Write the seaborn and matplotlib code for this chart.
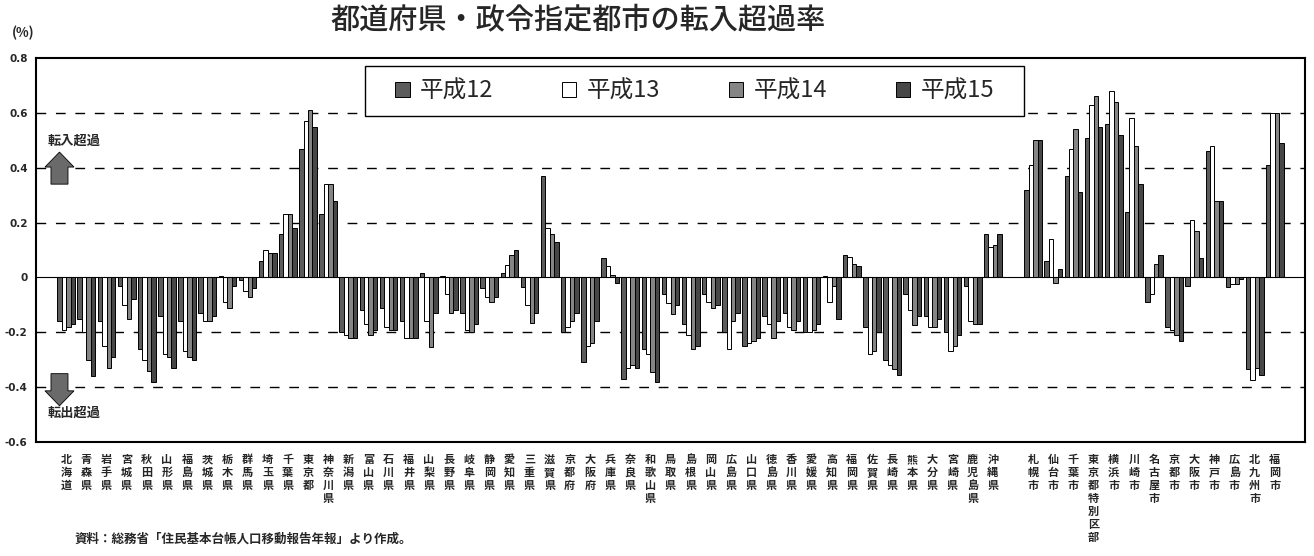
import numpy as np
import pandas as pd
import matplotlib
matplotlib.use("Agg")
import matplotlib.pyplot as plt
import seaborn as sns
from matplotlib.patches import FancyArrow, Rectangle

sns.set_theme(style="white")
plt.rcParams["font.family"] = ["Noto Sans CJK JP", "DejaVu Sans"]

# 都道府県と政令指定都市
prefectures = ["北海道", "青森県", "岩手県", "宮城県", "秋田県", "山形県", "福島県", "茨城県",
               "栃木県", "群馬県", "埼玉県", "千葉県", "東京都", "神奈川県", "新潟県", "富山県",
               "石川県", "福井県", "山梨県", "長野県", "岐阜県", "静岡県", "愛知県", "三重県",
               "滋賀県", "京都府", "大阪府", "兵庫県", "奈良県", "和歌山県", "鳥取県", "島根県",
               "岡山県", "広島県", "山口県", "徳島県", "香川県", "愛媛県", "高知県", "福岡県",
               "佐賀県", "長崎県", "熊本県", "大分県", "宮崎県", "鹿児島県", "沖縄県"]
cities = ["札幌市", "仙台市", "千葉市", "東京都特別区部", "横浜市", "川崎市", "名古屋市",
          "京都市", "大阪市", "神戸市", "広島市", "北九州市", "福岡市"]
years = ["平成12", "平成13", "平成14", "平成15"]

# 転入超過率（%）: 都道府県
pref_h12 = [-0.16, -0.15, -0.16, -0.03, -0.26, -0.14, -0.16, -0.13, 0.005, -0.01,
            0.06, 0.16, 0.47, 0.23, -0.20, -0.12, -0.11, -0.16, 0.015, 0.005,
            -0.13, -0.04, 0.015, -0.035, 0.37, -0.20, -0.31, 0.07, -0.37, -0.26,
            -0.06, -0.17, -0.06, -0.20, -0.25, -0.14, -0.13, -0.20, 0.005, 0.08,
            -0.18, -0.30, -0.06, -0.14, -0.20, -0.03, 0.16]
pref_h13 = [-0.19, -0.20, -0.25, -0.10, -0.30, -0.28, -0.27, -0.16, -0.09, -0.05,
            0.10, 0.23, 0.57, 0.34, -0.21, -0.17, -0.18, -0.22, -0.16, -0.06,
            -0.19, -0.07, 0.045, -0.10, 0.18, -0.18, -0.25, 0.04, -0.33, -0.28,
            -0.095, -0.21, -0.09, -0.26, -0.24, -0.17, -0.18, -0.20, -0.09, 0.075,
            -0.28, -0.32, -0.12, -0.18, -0.27, -0.16, 0.11]
pref_h14 = [-0.18, -0.30, -0.33, -0.15, -0.34, -0.29, -0.29, -0.16, -0.11, -0.07,
            0.09, 0.23, 0.61, 0.34, -0.22, -0.21, -0.19, -0.22, -0.255, -0.13,
            -0.20, -0.09, 0.08, -0.165, 0.16, -0.16, -0.24, 0.01, -0.32, -0.345,
            -0.135, -0.26, -0.11, -0.16, -0.23, -0.22, -0.19, -0.19, -0.03, 0.05,
            -0.27, -0.335, -0.175, -0.18, -0.25, -0.17, 0.12]
pref_h15 = [-0.17, -0.36, -0.29, -0.08, -0.38, -0.33, -0.30, -0.14, -0.03, -0.04,
            0.09, 0.18, 0.55, 0.28, -0.22, -0.19, -0.19, -0.22, -0.13, -0.12,
            -0.17, -0.07, 0.10, -0.13, 0.13, -0.13, -0.16, -0.02, -0.33, -0.38,
            -0.10, -0.25, -0.10, -0.13, -0.22, -0.16, -0.16, -0.17, -0.15, 0.04,
            -0.20, -0.355, -0.14, -0.15, -0.21, -0.17, 0.16]

# 転入超過率（%）: 政令指定都市
city_h12 = [0.32, 0.06, 0.37, 0.51, 0.56, 0.24, -0.09, -0.18, -0.03, 0.46, -0.035, -0.335, 0.41]
city_h13 = [0.41, 0.14, 0.47, 0.63, 0.68, 0.58, -0.06, -0.19, 0.21, 0.48, -0.025, -0.375, 0.60]
city_h14 = [0.50, -0.02, 0.54, 0.66, 0.64, 0.48, 0.05, -0.21, 0.17, 0.28, -0.025, -0.33, 0.60]
city_h15 = [0.50, 0.03, 0.31, 0.55, 0.52, 0.34, 0.08, -0.23, 0.07, 0.28, -0.005, -0.355, 0.49]

gap = " "
order = prefectures + [gap] + cities

rows = []
for name, vals in zip(years, [pref_h12 + [np.nan] + city_h12,
                              pref_h13 + [np.nan] + city_h13,
                              pref_h14 + [np.nan] + city_h14,
                              pref_h15 + [np.nan] + city_h15]):
    for cat, v in zip(order, vals):
        rows.append({"地域": cat, "年": name, "転入超過率": v})
df = pd.DataFrame(rows)

palette = {"平成12": "#5c5c5c", "平成13": "#ffffff", "平成14": "#858585", "平成15": "#474747"}

fig = plt.figure(figsize=(13.14, 5.56), dpi=100)
ax = fig.add_axes([0.0274, 0.205, 0.9658, 0.6907])

sns.barplot(data=df, x="地域", y="転入超過率", hue="年", order=order, hue_order=years,
            palette=palette, edgecolor="black", linewidth=0.7, width=0.88,
            errorbar=None, ax=ax, legend=True, zorder=3)

ax.set_ylim(-0.6, 0.8)
ax.set_xlim(-1.5, len(order) + 0.5)
ax.set_yticks([0.8, 0.6, 0.4, 0.2, 0, -0.2, -0.4, -0.6])
ax.set_yticklabels(["0.8", "0.6", "0.4", "0.2", "0", "-0.2", "-0.4", "-0.6"],
                   fontsize=7.5, fontweight="bold", family=["DejaVu Sans"])
ax.tick_params(axis="y", length=0, pad=6)

for yv in [0.6, 0.4, 0.2, -0.2, -0.4]:
    ax.axhline(yv, color="black", lw=1.0, ls=(0, (7, 7)), zorder=1)
ax.axhline(0, color="black", lw=0.8, zorder=4)

labels = ["\n".join(list(c)) if c != gap else "" for c in order]
ax.set_xticks(range(len(order)))
ax.set_xticklabels(labels, fontsize=8, fontweight="bold", linespacing=1.0, va="top")
ax.tick_params(axis="x", length=0, pad=8)
ax.set_xlabel("")
ax.set_ylabel("")

for s in ax.spines.values():
    s.set_visible(True)
    s.set_color("black")
    s.set_linewidth(1.5)

# 凡例（枠は別に描く）
ax.add_patch(Rectangle((0.2593, 0.849), 0.5193, 0.130, transform=ax.transAxes,
                       fc="white", ec="black", lw=1.0, zorder=5))
leg = ax.legend(loc="center", bbox_to_anchor=(0.519, 0.914), ncol=4, frameon=False,
                fontsize=17, handlelength=0.6, handleheight=0.6, handletextpad=0.45,
                columnspacing=2.9, borderpad=0, borderaxespad=0)
leg.set_zorder(6)

# 転入超過・転出超過の矢印
ax.text(0.009, 0.786, "転入超過", transform=ax.transAxes, fontsize=9.5, fontweight="bold",
        va="center", ha="left")
ax.add_patch(FancyArrow(0.0185, 0.6715, 0, 0.0835, width=0.0134, head_width=0.0229,
                        head_length=0.039, length_includes_head=True, transform=ax.transAxes,
                        fc="#6a6a6a", ec="black", lw=0.6, zorder=5))
ax.text(0.009, 0.076, "転出超過", transform=ax.transAxes, fontsize=9.5, fontweight="bold",
        va="center", ha="left")
ax.add_patch(FancyArrow(0.0185, 0.178, 0, -0.0837, width=0.0134, head_width=0.0229,
                        head_length=0.039, length_includes_head=True, transform=ax.transAxes,
                        fc="#6a6a6a", ec="black", lw=0.6, zorder=5))

fig.text(0.44, 0.962, "都道府県・政令指定都市の転入超過率", fontsize=21, ha="center",
         va="center", fontweight="medium")
fig.text(0.009, 0.94, "(%)", fontsize=9.5, fontweight="bold", ha="left", va="center")
fig.text(0.057, 0.03, "資料：総務省「住民基本台帳人口移動報告年報」より作成。", fontsize=9,
         fontweight="bold", ha="left", va="center")

fig.savefig("out.png", dpi=100)
